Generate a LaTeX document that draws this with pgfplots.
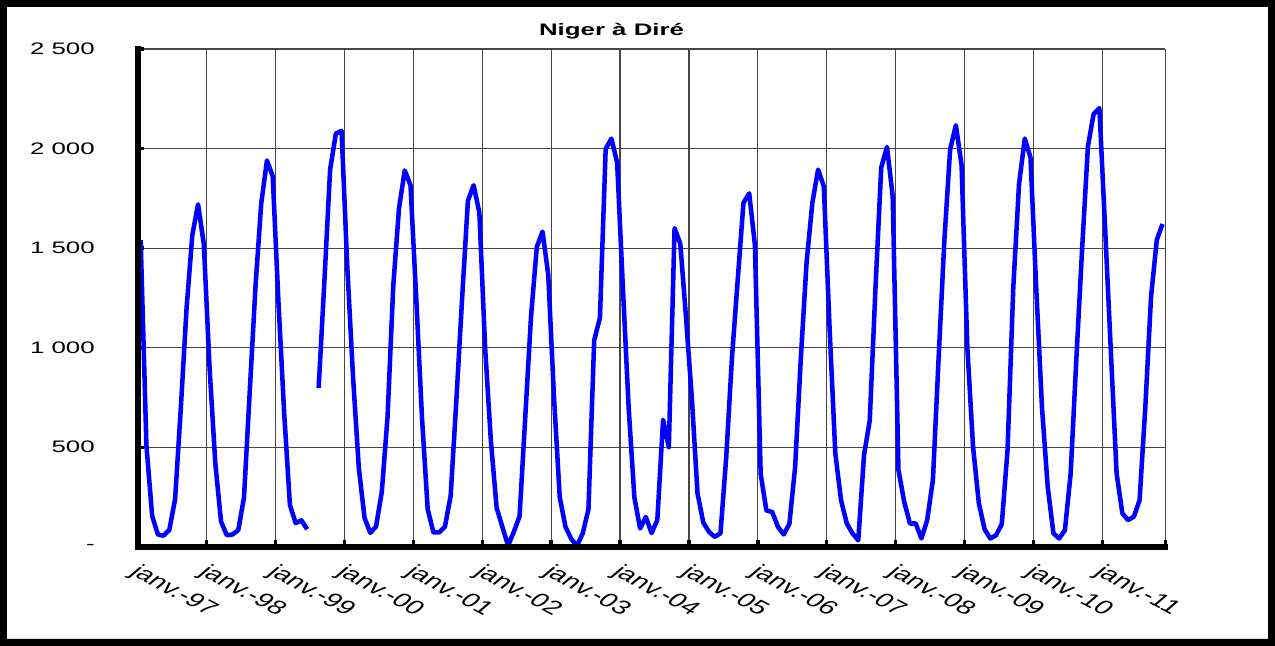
\documentclass[border=0pt]{standalone}
\usepackage{pgfplots}
\pgfplotsset{compat=1.18}
\usepackage{pgfplotstable}
\usepackage{fontspec}
\setmainfont{Liberation Sans}
\definecolor{lineblue}{RGB}{0,0,255}
\definecolor{gridgray}{RGB}{70,70,70}

\pgfplotstableread{
m v
0.5 1540
1.5 510
2.5 155
3.5 62
4.5 56
5.5 86
6.5 240
7.5 700
8.5 1200
9.5 1566
10.5 1720
11.5 1520
12.5 900
13.5 420
14.5 127
15.5 58
16.5 62
17.5 84
18.5 248
19.5 780
20.5 1306
21.5 1724
22.5 1940
23.5 1862
24.5 1230
25.5 670
26.5 210
27.5 119
28.5 133
29.5 88
30.5 nan
31.5 797
32.5 1331
33.5 1894
34.5 2075
35.5 2089
36.5 1400
37.5 850
38.5 396
39.5 145
40.5 70
41.5 102
42.5 275
43.5 650
44.5 1310
45.5 1700
46.5 1890
47.5 1816
48.5 1250
49.5 650
50.5 188
51.5 72
52.5 72
53.5 101
54.5 257
55.5 740
56.5 1250
57.5 1738
58.5 1816
59.5 1678
60.5 1000
61.5 534
62.5 197
63.5 100
64.5 6
65.5 75
66.5 153
67.5 655
68.5 1158
69.5 1505
70.5 1583
71.5 1366
72.5 750
73.5 248
74.5 100
75.5 40
76.5 5
77.5 67
78.5 188
79.5 1037
80.5 1150
81.5 1998
82.5 2050
83.5 1929
84.5 1300
85.5 700
86.5 248
87.5 92
88.5 150
89.5 69
90.5 135
91.5 638
92.5 500
93.5 1600
94.5 1522
95.5 1150
96.5 750
97.5 268
98.5 122
99.5 75
100.5 50
101.5 68
102.5 450
103.5 950
104.5 1340
105.5 1727
106.5 1775
107.5 1515
108.5 365
109.5 182
110.5 175
111.5 101
112.5 62
113.5 115
114.5 400
115.5 950
116.5 1430
117.5 1727
118.5 1894
119.5 1810
120.5 1100
121.5 470
122.5 234
123.5 117
124.5 67
125.5 33
126.5 460
127.5 635
128.5 1300
129.5 1905
130.5 2008
131.5 1760
132.5 385
133.5 226
134.5 117
135.5 117
136.5 42
137.5 134
138.5 335
139.5 950
140.5 1540
141.5 1995
142.5 2117
143.5 1915
144.5 1000
145.5 500
146.5 220
147.5 88
148.5 42
149.5 58
150.5 115
151.5 485
152.5 1300
153.5 1820
154.5 2050
155.5 1955
156.5 1300
157.5 700
158.5 301
159.5 67
160.5 42
161.5 84
162.5 369
163.5 950
164.5 1500
165.5 2010
166.5 2174
167.5 2203
168.5 1600
169.5 980
170.5 369
171.5 168
172.5 134
173.5 151
174.5 234
175.5 700
176.5 1256
177.5 1541
178.5 1621
}\niger

\begin{document}
\begin{tikzpicture}
\begin{axis}[
  at={(0pt,0pt)}, anchor=south west,
  scale only axis, width=770.7pt, height=373.35pt,
  xmin=0, xmax=179, ymin=0, ymax=2500,
  xtick={0,12,...,168},
  xticklabels={janv.-97,janv.-98,janv.-99,janv.-00,janv.-01,janv.-02,janv.-03,janv.-04,janv.-05,janv.-06,janv.-07,janv.-08,janv.-09,janv.-10,janv.-11},
  extra x ticks={179}, extra x tick labels={},
  ytick={0,500,...,2500},
  yticklabels={-,500,1 000,1 500,2 000,2 500},
  grid=major,
  major grid style={gridgray, line width=0.9pt},
  axis line style={draw=none},
  tick pos=left,
  tick align=inside,
  major tick length=5pt,
  tick style={black, line width=2.6pt},
  clip=false,
  unbounded coords=jump,
  xticklabel style={font=\fontsize{14.5}{16}\selectfont, inner sep=0pt, anchor=north west, xshift=3pt, yshift=-12pt, xscale=1.5, rotate=-38},
  yticklabel style={font=\fontsize{12.5}{14}\selectfont, inner sep=0pt, anchor=east, xshift=-32pt, xscale=1.55},
]
\addplot[lineblue, line width=3.4pt, line join=round] table[x=m, y=v] {\niger};
\draw[black, line width=4.5pt, line cap=rect] (axis cs:0,2500) -- (axis cs:0,0) -- (axis cs:179,0);
\end{axis}
\node[font=\bfseries\fontsize{12.5}{14}\selectfont, xscale=1.55] at (355.3pt,386.5pt) {Niger à Diré};
\fill[black, even odd rule] (-103.35pt,-74.4pt) rectangle (852.9pt,410.1pt) (-98.1pt,-69.15pt) rectangle (847.65pt,404.85pt);
\pgfresetboundingbox
\path[use as bounding box] (-103.35pt,-74.4pt) rectangle (852.9pt,410.1pt);
\end{tikzpicture}
\end{document}
